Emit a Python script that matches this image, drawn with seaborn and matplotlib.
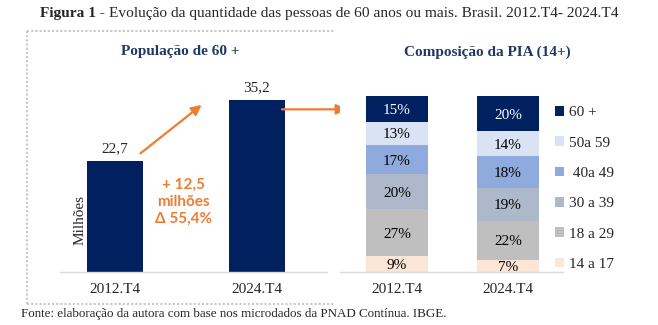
import matplotlib
matplotlib.use("Agg")
import matplotlib.pyplot as plt
from matplotlib.lines import Line2D
from matplotlib.patches import Patch
import numpy as np
import seaborn as sns

# --- data -------------------------------------------------------------
periods = ["2012.T4", "2024.T4"]
pop60 = [22.7, 35.2]                      # população de 60+ (milhões)
gain_text = "+ 12,5\nmilhões\nΔ 55,4%"

age_groups = ["14 a 17", "18 a 29", "30 a 39", " 40a 49", "50a 59", "60 +"]
shares_2012 = [9, 27, 20, 17, 13, 15]     # composição da PIA (%)
shares_2024 = [7, 22, 19, 18, 14, 20]
group_colors = ["#FBE5D6", "#BFBFBF", "#ADB9CA", "#8FAADC", "#DAE3F3", "#002060"]
label_colors = ["black", "black", "black", "black", "black", "white"]

NAVY = "#002060"
TITLE_BLUE = "#1F3864"
ORANGE = "#ED7D31"
AXIS_GRAY = "#D9D9D9"

W, H = 658, 325
sns.set_theme(style="white")
plt.rcParams["font.family"] = ["Liberation Serif", "DejaVu Serif"]

fig = plt.figure(figsize=(W / 100, H / 100), dpi=100)


def box(l, t, r, b):
    """Axes rectangle from pixel edges measured from the top-left corner."""
    return [l / W, 1 - b / H, (r - l) / W, (b - t) / H]


def fy(y):
    return 1 - y / H


# --- left panel: população de 60+ ---------------------------------------
ax1 = fig.add_axes(box(60, 60, 327, 272))
sns.barplot(x=periods, y=pop60, color=NAVY, saturation=1, width=0.394,
            linewidth=0, ax=ax1)
ax1.set_xlim(-0.387, 1.493)
ax1.set_ylim(0, 43.4)
ax1.bar_label(ax1.containers[0],
              labels=[f"{v:.1f}".replace(".", ",") for v in pop60],
              padding=4, fontsize=11)
ax1.set_yticks([])
ax1.set_xlabel("")
ax1.set_ylabel("")
ax1.tick_params(axis="x", length=0, pad=8, labelsize=11)
for side in ("top", "right", "left"):
    ax1.spines[side].set_visible(False)
ax1.spines["bottom"].set_color(AXIS_GRAY)
ax1.spines["bottom"].set_linewidth(1)

ax1.text(-0.246, 10.6, "Milhões", rotation=90, ha="center", va="center",
         fontsize=11)
ax1.text(0.48, 14.3, gain_text, ha="center", va="center", color=ORANGE,
         fontsize=11, fontweight="bold", linespacing=1.28,
         family=["Lato", "DejaVu Sans"])

arrow_kw = dict(arrowstyle="-|>,head_length=0.5,head_width=0.25",
                color=ORANGE, lw=1.6, shrinkA=0, shrinkB=0)
ax1.annotate("", xy=(0.61, pop60[1] - 1.0), xytext=(0.18, pop60[0] + 1.6),
             arrowprops=arrow_kw, annotation_clip=False)
ax1.annotate("", xy=(1.63, pop60[1] - 1.9), xytext=(1.176, pop60[1] - 1.9),
             arrowprops=arrow_kw, annotation_clip=False)

# --- right panel: composição da PIA (100% empilhado) -------------------
ax2 = fig.add_axes(box(340, 96, 563, 272))
shares = np.array([shares_2012, shares_2024], dtype=float)
norm = shares / shares.sum(axis=1, keepdims=True) * 100
tops = np.cumsum(norm, axis=1)

for i in reversed(range(len(age_groups))):
    sns.barplot(x=periods, y=tops[:, i], color=group_colors[i], saturation=1,
                width=0.56, linewidth=0, ax=ax2)

for j in range(len(periods)):
    for i in range(len(age_groups)):
        mid = tops[j, i] - norm[j, i] / 2
        ax2.text(j, mid, f"{int(shares[j, i])}%", ha="center",
                 va="center_baseline", fontsize=11, color=label_colors[i])

ax2.set_xlim(-0.514, 1.495)
ax2.set_ylim(0, 100)
ax2.set_yticks([])
ax2.set_xlabel("")
ax2.set_ylabel("")
ax2.tick_params(axis="x", length=0, pad=8, labelsize=11)
for side in ("top", "right", "left"):
    ax2.spines[side].set_visible(False)
ax2.spines["bottom"].set_color(AXIS_GRAY)
ax2.spines["bottom"].set_linewidth(1)

handles = [Patch(facecolor=c, edgecolor="none") for c in group_colors[::-1]]
fig.legend(handles, age_groups[::-1], loc="upper left",
           bbox_to_anchor=(555 / W, fy(106)), frameon=False, fontsize=11,
           handlelength=0.6, handleheight=0.6, handletextpad=0.3,
           labelspacing=1.12, borderpad=0, borderaxespad=0)

# --- titles, source and frame -------------------------------------------
fig.text(180 / W, fy(51), "População de 60 +", ha="center", va="center",
         fontsize=11, fontweight="bold", color=TITLE_BLUE)
fig.text(487 / W, fy(52), "Composição da PIA (14+)", ha="center", va="center",
         fontsize=11, fontweight="bold", color=TITLE_BLUE)

t_bold = fig.text(40 / W, fy(14), "Figura 1 - ", ha="left", va="center",
                  fontsize=11.1, fontweight="bold")
ax1.annotate("Evolução da quantidade das pessoas de 60 anos ou mais. "
             "Brasil. 2012.T4- 2024.T4",
             xy=(1, 0), xycoords=t_bold, ha="left", va="bottom",
             fontsize=11.1, annotation_clip=False)

fig.text(21 / W, fy(314), "Fonte: elaboração da autora com base nos "
         "microdados da PNAD Contínua. IBGE.", ha="left", va="center",
         fontsize=9.4)

dot_kw = dict(color="#C8C8C8", lw=1.5, linestyle=(0, (1, 1)))
for (x0, y0), (x1, y1) in [((27, 31), (334, 31)), ((27, 31), (27, 304)),
                           ((27, 304), (334, 304))]:
    fig.add_artist(Line2D([x0 / W, x1 / W], [fy(y0), fy(y1)], **dot_kw))

fig.savefig("out.png", dpi=100)
